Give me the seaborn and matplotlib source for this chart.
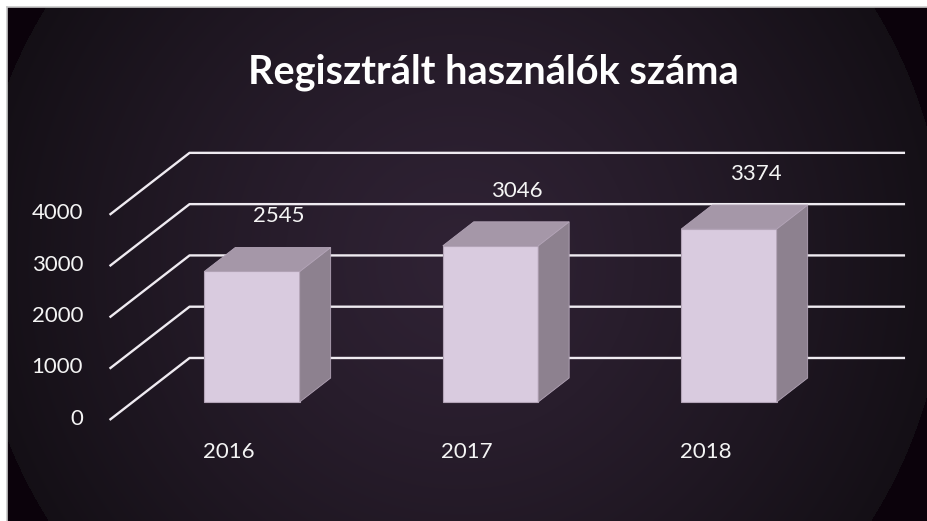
import numpy as np
import matplotlib
matplotlib.use("Agg")
import matplotlib.pyplot as plt
import seaborn as sns
from matplotlib.patches import Polygon

# ---------------- data ----------------
title = "Regisztrált használók száma"
years = ["2016", "2017", "2018"]
users = [2545, 3046, 3374]
ytick_values = [0, 1000, 2000, 3000, 4000]

# ---------------- style ----------------
plt.rcParams["font.family"] = ["Lato", "DejaVu Sans"]
W, H = 928, 521
fig = plt.figure(figsize=(W / 100, H / 100), dpi=100, facecolor="white")

# background: radial gradient panel with thin gray frame
bx = fig.add_axes([7 / W, 0, 1 - 7 / W, 1 - 7 / H])
yy, xx = np.mgrid[7:H, 7:W] + 0.5
r = np.hypot(xx - 460, yy - 262) / 486
c_center = np.array([0.185, 0.133, 0.204])
c_edge = np.array([0.078, 0.060, 0.085])
c_out = np.array([0.045, 0.010, 0.045])
t = np.clip(r, 0, 1)[..., None] ** 1.3
img = c_center * (1 - t) + c_edge * t
img = np.where((r > 1)[..., None], c_out, img)
bx.imshow(img, aspect="auto", interpolation="bilinear")
bx.set_xticks([]); bx.set_yticks([])
for s in ["right", "bottom"]:
    bx.spines[s].set_visible(False)
for s in ["left", "top"]:
    bx.spines[s].set_color("#c8c8c8")
    bx.spines[s].set_linewidth(1.2)

# main axes (pseudo-3D chart drawn in data coordinates)
ax = fig.add_axes([0, 0, 1, 1])
ax.patch.set_alpha(0)

front_col = "#d9cbdf"
top_col = "#a597a8"
side_col = "#8d818f"
edge_col = "#b3a4b7"
text_col = "#f4f4f4"
grid_col = "#efebf1"

sns.barplot(x=years, y=users, width=0.4, color=front_col, saturation=1,
            edgecolor=edge_col, linewidth=0.8, ax=ax, zorder=3)

px_per_cat = 238.5
val_per_px = 19.5
x0_px = 252
base_px = 402
ax.set_xlim(-x0_px / px_per_cat, (W - x0_px) / px_per_cat)
ax.set_ylim(-(H - base_px) * val_per_px, base_px * val_per_px)
ax.axis("off")

# depth direction (one depth unit = 80 px right, 62 px up)
DX = 80 / px_per_cat
DY = 62 * val_per_px
t_front, t_bar, t_back = -0.29, 0.387, 0.71
n = len(years)

# wall gridlines (side wall diagonals + back wall horizontals)
xl, xr = -0.5, n - 0.5
for v in ytick_values:
    xs = [xl + DX * t_front, xl + DX * t_back, xr + DX * t_back]
    ys = [v + DY * t_front, v + DY * t_back, v + DY * t_back]
    ax.plot(xs, ys, color=grid_col, lw=1.7, zorder=1, solid_capstyle="butt")
    ax.annotate(f"{v}", (xl + DX * t_front, v + DY * t_front),
                xytext=(-19, 1), textcoords="offset points",
                ha="right", va="center", color=text_col, fontsize=16)

# 3D top and side faces of each bar
dx, dy = DX * t_bar, DY * t_bar
for p in ax.patches[:n]:
    x0, w, h = p.get_x(), p.get_width(), p.get_height()
    top = Polygon([(x0, h), (x0 + w, h), (x0 + w + dx, h + dy), (x0 + dx, h + dy)],
                  closed=True, facecolor=top_col, edgecolor=edge_col, lw=0.6, zorder=3)
    side = Polygon([(x0 + w, 0), (x0 + w, h), (x0 + w + dx, h + dy), (x0 + w + dx, dy)],
                   closed=True, facecolor=side_col, edgecolor=edge_col, lw=0.6, zorder=3)
    ax.add_patch(side)
    ax.add_patch(top)

# category labels (front plane)
for i, yr in enumerate(years):
    ax.annotate(yr, (i + DX * t_front, DY * t_front), xytext=(0, -23),
                textcoords="offset points", ha="center", va="center",
                color=text_col, fontsize=16)

# data labels
for i, v in enumerate(users):
    ax.annotate(f"{v}", (i + DX * 0.33, v + DY * 0.33), xytext=(0, 25),
                textcoords="offset points", ha="center", va="center",
                color=text_col, fontsize=16)

fig.text(493 / W, 1 - 72 / H, title, ha="center", va="center",
         fontsize=28.5, fontweight="bold", color="#ffffff")

fig.savefig("out.png", dpi=100, facecolor="white")
